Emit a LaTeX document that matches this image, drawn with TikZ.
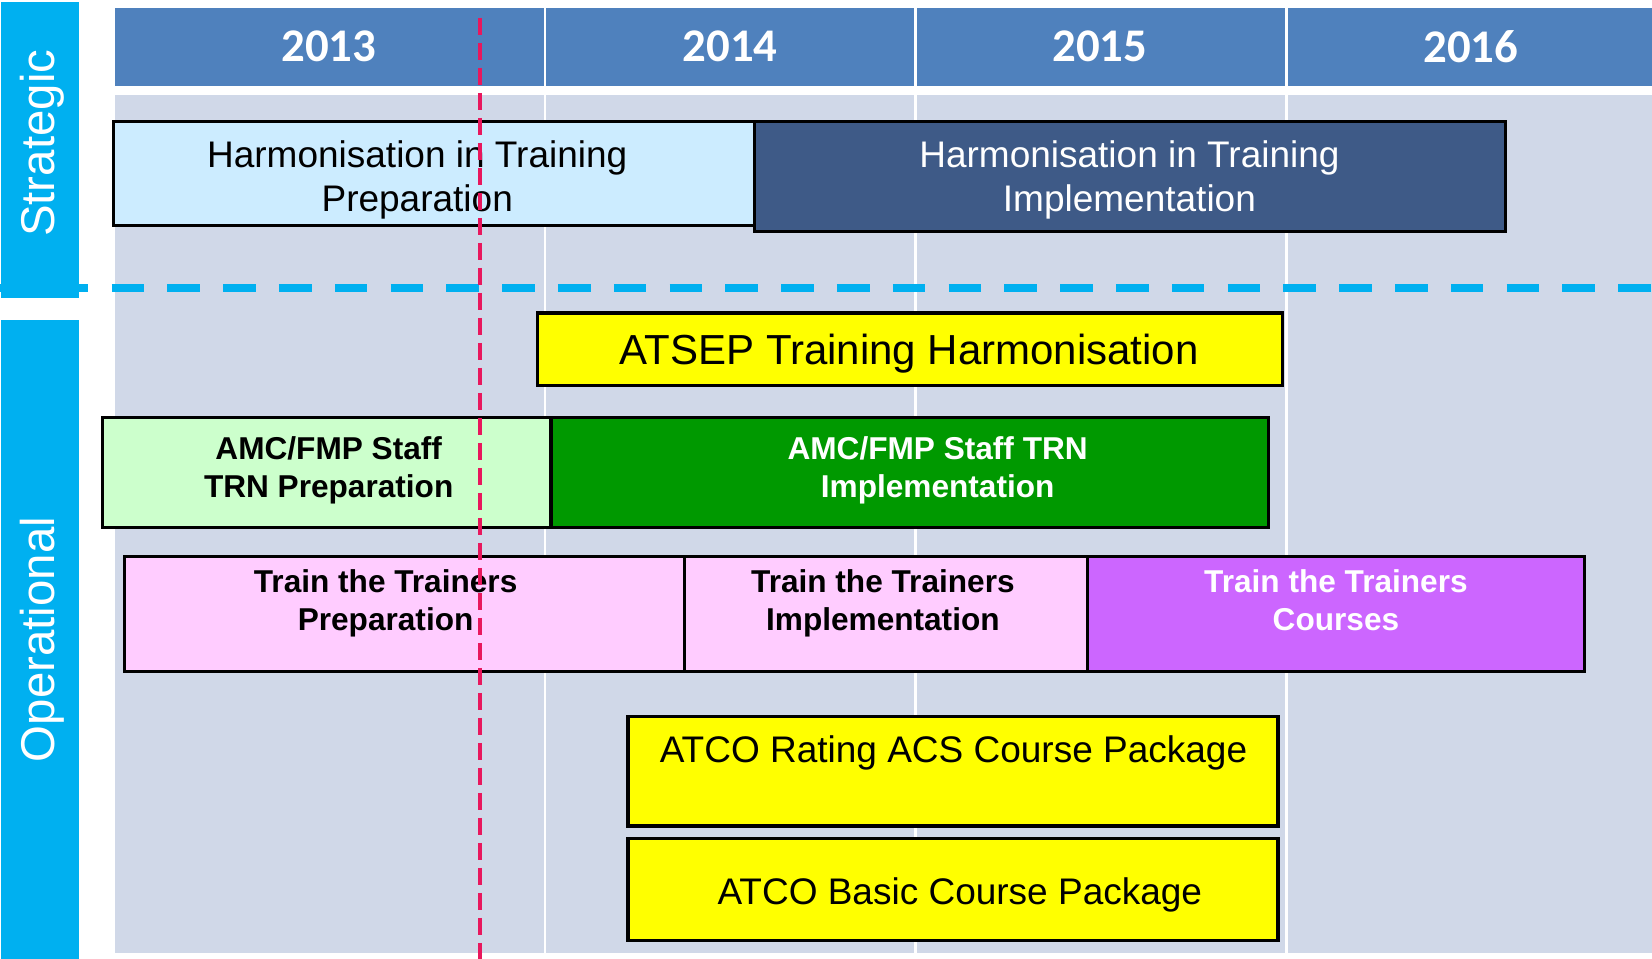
\documentclass[tikz,border=0pt]{standalone}
\usepackage{fontspec}
\setmainfont{Liberation Sans}
\newfontfamily\yearfont{Carlito}
\definecolor{sidecyan}{HTML}{00B0F0}
\definecolor{headblue}{HTML}{4F81BD}
\definecolor{gridgray}{HTML}{D0D8E8}
\definecolor{hitlight}{HTML}{CCECFF}
\definecolor{hitdark}{HTML}{3E5A87}
\definecolor{amclight}{HTML}{CCFFCC}
\definecolor{amcgreen}{HTML}{009900}
\definecolor{tttpink}{HTML}{FFCCFF}
\definecolor{tttpurple}{HTML}{CC66FF}
\definecolor{atyellow}{HTML}{FFFF00}
\definecolor{todayred}{HTML}{E8175D}

\begin{document}
\begin{tikzpicture}
      [x=0.5268pt,y=-0.5268pt
      ,side/.style={fill=sidecyan}
      ,sidelbl/.style={rotate=90,text=white,inner sep=0pt,font=\fontsize{23.7}{28}\selectfont}
      ,yearlbl/.style={text=white,inner sep=0pt,font=\yearfont\fontsize{23.4}{28}\selectfont\bfseries}
      ,bar/.style={draw=black,line width=1.6pt}
      ,lbl/.style={align=center,inner sep=0pt,font=\fontsize{18.5}{22.2}\selectfont}
      ,blbl/.style={align=center,inner sep=0pt,font=\fontsize{15.8}{19}\selectfont\bfseries}
      ,gridline/.style={white,line width=1.2pt}
      ]
        \useasboundingbox (0,0) rectangle (1568,910);

        % side panels
        \fill[side] (1,2) rectangle (75,283);
        \fill[side] (1,304) rectangle (75,910);
        \node[sidelbl] (strat) at (40,136) {Strategic};
        \node[sidelbl] (oper) at (40,607) {Operational};

        % years and grid
        \fill[headblue] (109,8) rectangle (1568,82);
        \fill[gridgray] (109,90) rectangle (1568,905);
        \foreach \x in {517,869,1221}{
            \draw[gridline] (\x,8) -- (\x,905);
        }
        \foreach \yr/\x in {2013/312,2014/693,2015/1044,2016/1396}{
            \node[yearlbl] (y\yr) at (\x,44) {\yr};
        }

        % strategic bars
        \draw[bar,fill=hitlight] (108,115) rectangle (716,214);
        \draw[bar,fill=hitdark] (716,115) rectangle (1429,220);
        \node[lbl] (hitprep) at (396,171) {Harmonisation in Training\\Preparation};
        \node[lbl,text=white] (hitimpl) at (1072,171) {Harmonisation in Training\\Implementation};

        % operational bars
        \draw[bar,fill=atyellow] (510,297) rectangle (1217,366);
        \node[lbl,font=\fontsize{21}{25}\selectfont] (atsep) at (863,336) {ATSEP Training Harmonisation};

        \draw[bar,fill=amclight] (97,396) rectangle (523,501);
        \draw[bar,fill=amcgreen] (523,396) rectangle (1204,501);
        \node[blbl] (amcprep) at (312,446) {AMC/FMP Staff\\TRN Preparation};
        \node[blbl,text=white] (amcimpl) at (890,446) {AMC/FMP Staff TRN\\Implementation};

        \draw[bar,fill=tttpink] (118,528) rectangle (650,637);
        \draw[bar,fill=tttpink] (650,528) rectangle (1032,637);
        \draw[bar,fill=tttpurple] (1032,528) rectangle (1504,637);
        \node[blbl] (tttprep) at (366,573) {Train the Trainers\\Preparation};
        \node[blbl] (tttimpl) at (838,573) {Train the Trainers\\Implementation};
        \node[blbl,text=white] (tttcourse) at (1268,570) {Train the Trainers\\Courses};

        \draw[bar,fill=atyellow] (596,680) rectangle (1213,784);
        \draw[bar,fill=atyellow] (596,796) rectangle (1213,893);
        \node[lbl] (acs) at (905,715) {ATCO Rating ACS Course Package};
        \node[lbl] (basic) at (911,849) {ATCO Basic Course Package};

        % divider and today line
        \draw[sidecyan,line width=4pt,dash pattern=on 16.3pt off 11.6pt] (0,273) -- (1568,273);
        \draw[todayred,line width=2pt,dash pattern=on 8.5pt off 4pt] (456,17) -- (456,910);
      \end{tikzpicture}
\end{document}
